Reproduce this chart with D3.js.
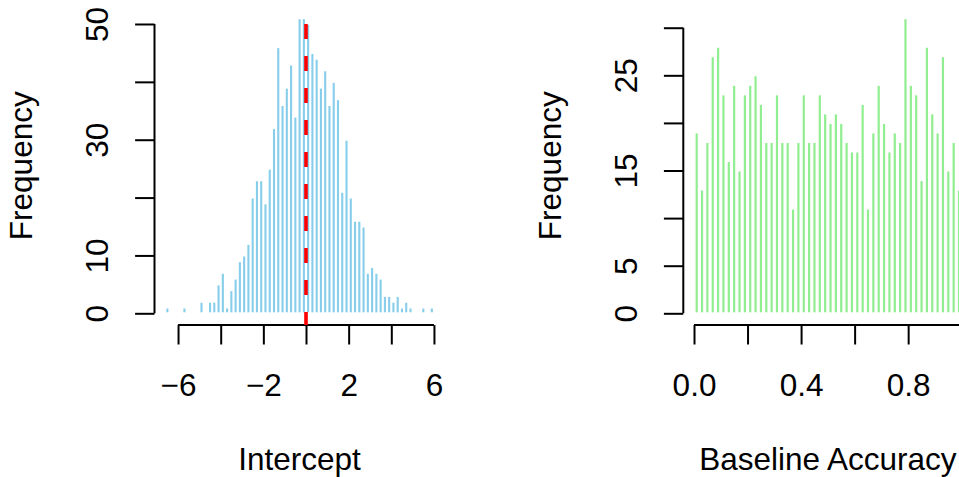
<!DOCTYPE html>
<html>
<head>
<meta charset="utf-8">
<script src="https://cdnjs.cloudflare.com/ajax/libs/d3/7.8.5/d3.min.js"></script>
<style>
  body { margin: 0; background: #fff; }
  svg { display: block; font-family: "Liberation Sans", Arial, Helvetica, sans-serif; }
</style>
</head>
<body>
<svg></svg>
<script>
// histogram of intercepts, bins of 0.2 (mid points)
let interceptMids = [-6.5, -6.3, -6.1, -5.9, -5.7, -5.5, -5.3, -5.1, -4.9, -4.7, -4.5, -4.3, -4.1,
  -3.9, -3.7, -3.5, -3.3, -3.1, -2.9, -2.7, -2.5, -2.3, -2.1, -1.9, -1.7, -1.5, -1.3, -1.1,
  -0.9, -0.7, -0.5, -0.3, -0.1, 0.1, 0.3, 0.5, 0.7, 0.9, 1.1, 1.3, 1.5, 1.7, 1.9, 2.1, 2.3,
  2.5, 2.7, 2.9, 3.1, 3.3, 3.5, 3.7, 3.9, 4.1, 4.3, 4.5, 4.7, 4.9, 5.1, 5.3, 5.5, 5.7, 5.9]
let interceptCounts = [1, 0, 0, 0, 1, 0, 0, 0, 2, 0, 2, 2, 5,
  7, 1, 4, 6, 9, 10, 12, 20, 23, 23, 19, 25, 32, 46, 36,
  39, 43, 34, 51, 51, 50, 45, 44, 39, 42, 36, 40, 37, 21, 30, 20, 16,
  16, 15, 7, 8, 7, 6, 3, 3, 2, 3, 1, 2, 1, 0, 0, 1, 0, 1]

// histogram of baseline accuracy, bins of 0.02 (mid points)
let baselineMids = [0.01, 0.03, 0.05, 0.07, 0.09, 0.11, 0.13, 0.15, 0.17, 0.19,
  0.21, 0.23, 0.25, 0.27, 0.29, 0.31, 0.33, 0.35, 0.37, 0.39,
  0.41, 0.43, 0.45, 0.47, 0.49, 0.51, 0.53, 0.55, 0.57, 0.59,
  0.61, 0.63, 0.65, 0.67, 0.69, 0.71, 0.73, 0.75, 0.77, 0.79,
  0.81, 0.83, 0.85, 0.87, 0.89, 0.91, 0.93, 0.95, 0.97, 0.99]
let baselineCounts = [19, 13, 18, 27, 28, 23, 16, 24, 15, 23,
  24, 25, 22, 18, 18, 23, 18, 18, 11, 18,
  23, 18, 18, 23, 21, 20, 21, 20, 18, 17,
  17, 22, 11, 19, 24, 20, 17, 19, 18, 31,
  24, 23, 14, 28, 21, 19, 27, 15, 18, 13]

let interceptXTicks = [-6, -4, -2, 0, 2, 4, 6]
let interceptXLabels = [-6, -2, 2, 6]
let interceptYTicks = [0, 10, 20, 30, 40, 50]
let interceptYLabels = [0, 10, 30, 50]

let baselineXTicks = [0, 0.2, 0.4, 0.6, 0.8, 1.0]
let baselineXLabels = [0, 0.4, 0.8]
let baselineYTicks = [0, 5, 10, 15, 20, 25, 30]
let baselineYLabels = [0, 5, 15, 25]

let width = 959
let height = 477
let plotTop = 6.4
let plotBottom = 325.1
let tickLen = 19.4
let fontSize = 31.5

let svg = d3.select('svg')
  .attr('width', width)
  .attr('height', height)

svg.append('rect')
  .attr('width', width)
  .attr('height', height)
  .attr('fill', '#fff')

let fmtMinus = (v, digits) => {
  let s = digits ? v.toFixed(digits) : String(v)
  return s.replace('-', '\u2212')
}

let drawPanel = (opt) => {
  let maxCount = d3.max(opt.counts)
  let ext = maxCount * 0.04
  let yScale = d3.scaleLinear()
    .domain([-ext, maxCount + ext])
    .range([plotBottom, plotTop])

  let xScale = d3.scaleLinear()
    .domain(opt.xDomain)
    .range([opt.left, opt.right])

  let g = svg.append('g')

  // bars
  g.selectAll('rect.bar')
    .data(opt.mids.map((m, i) => [m, opt.counts[i]]).filter(d => d[1] > 0))
    .enter()
    .append('rect')
    .attr('class', 'bar')
    .attr('x', d => xScale(d[0]) - opt.barWidth / 2)
    .attr('width', opt.barWidth)
    .attr('y', d => yScale(d[1]) + 1)
    .attr('height', d => Math.max(0, yScale(0) - 1 - (yScale(d[1]) + 1)))
    .attr('fill', opt.color)

  // x axis
  let xAxis = d3.axisBottom(xScale)
    .tickValues(opt.xTicks)
    .tickSize(tickLen)
    .tickSizeOuter(0)
    .tickFormat(d => opt.xLabels.includes(d) ? fmtMinus(d, opt.xDigits) : '')

  let gx = g.append('g')
    .attr('transform', 'translate(0,' + plotBottom + ')')
    .call(xAxis)
  gx.select('.domain').remove()
  gx.append('line')
    .attr('x1', xScale(opt.xTicks[0]))
    .attr('x2', xScale(opt.xTicks[opt.xTicks.length - 1]))
    .attr('stroke', '#000')
    .attr('stroke-width', 2)
  gx.selectAll('.tick line').attr('stroke', '#000').attr('stroke-width', 2)
  gx.selectAll('.tick text')
    .attr('y', 71)
    .attr('dy', 0)
    .attr('fill', '#000')
    .style('font-size', fontSize + 'px')
    .style('font-family', '"Liberation Sans", Arial, sans-serif')

  // y axis
  let yAxis = d3.axisLeft(yScale)
    .tickValues(opt.yTicks)
    .tickSize(tickLen)
    .tickSizeOuter(0)
    .tickFormat(d => opt.yLabels.includes(d) ? String(d) : '')

  let gy = g.append('g')
    .attr('transform', 'translate(' + opt.left + ',0)')
    .call(yAxis)
  gy.select('.domain').remove()
  gy.append('line')
    .attr('y1', yScale(opt.yTicks[0]))
    .attr('y2', yScale(opt.yTicks[opt.yTicks.length - 1]))
    .attr('stroke', '#000')
    .attr('stroke-width', 2)
  gy.selectAll('.tick line').attr('stroke', '#000').attr('stroke-width', 2)
  gy.selectAll('.tick text')
    .attr('x', 0)
    .attr('y', 0)
    .attr('dy', 0)
    .attr('text-anchor', 'middle')
    .attr('transform', 'translate(-46.3,0) rotate(-90)')
    .attr('fill', '#000')
    .style('font-size', fontSize + 'px')
    .style('font-family', '"Liberation Sans", Arial, sans-serif')

  // axis titles
  g.append('text')
    .attr('x', (opt.left + opt.right) / 2)
    .attr('y', 470)
    .attr('text-anchor', 'middle')
    .style('font-size', fontSize + 'px')
    .text(opt.xTitle)

  g.append('text')
    .attr('transform', 'translate(' + (opt.left - 122.8) + ',' + ((plotTop + plotBottom) / 2) + ') rotate(-90)')
    .attr('text-anchor', 'middle')
    .style('font-size', fontSize + 'px')
    .text('Frequency')

  return { xScale, yScale, g }
}

let left = drawPanel({
  mids: interceptMids,
  counts: interceptCounts,
  xDomain: [-7.104, 6.504],
  left: 154.5,
  right: 444.7,
  barWidth: 2.1,
  color: 'skyblue',
  xTicks: interceptXTicks,
  xLabels: interceptXLabels,
  xDigits: 0,
  yTicks: interceptYTicks,
  yLabels: interceptYLabels,
  xTitle: 'Intercept'
})

// red dashed reference line at zero
left.g.append('line')
  .attr('x1', left.xScale(0))
  .attr('x2', left.xScale(0))
  .attr('y1', plotBottom)
  .attr('y2', plotTop + 2)
  .attr('stroke', 'red')
  .attr('stroke-width', 3.6)
  .attr('stroke-dasharray', '15,17')
  .attr('stroke-dashoffset', 2)

drawPanel({
  mids: baselineMids,
  counts: baselineCounts,
  xDomain: [-0.04, 1.04],
  left: 683.3,
  right: 972.4,
  barWidth: 2.2,
  color: 'lightgreen',
  xTicks: baselineXTicks,
  xLabels: baselineXLabels,
  xDigits: 1,
  yTicks: baselineYTicks,
  yLabels: baselineYLabels,
  xTitle: 'Baseline Accuracy'
})
</script>
</body>
</html>
